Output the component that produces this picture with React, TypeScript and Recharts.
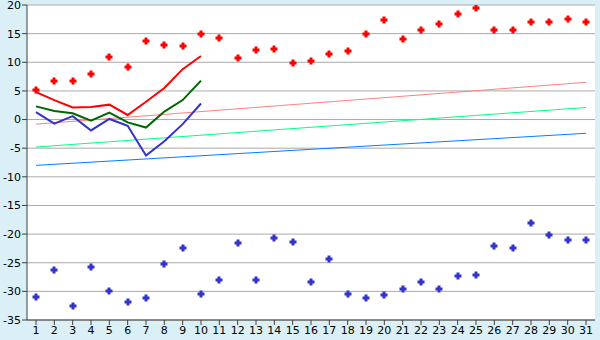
import React from "react";
import {
  ComposedChart,
  Line,
  Scatter,
  XAxis,
  YAxis,
  CartesianGrid
} from "recharts";

const days = [
  1, 2, 3, 4, 5, 6, 7, 8, 9, 10, 11, 12, 13, 14, 15, 16, 17, 18, 19, 20, 21,
  22, 23, 24, 25, 26, 27, 28, 29, 30, 31
];

const highs = [
  5.2, 6.7, 6.8, 7.9, 11.0, 9.1, 13.8, 13.0, 12.8, 15.0, 14.2, 10.7, 12.1,
  12.4, 9.8, 10.3, 11.4, 11.9, 14.9, 17.3, 14.0, 15.6, 16.6, 18.4, 19.4, 15.6,
  15.6, 17.0, 17.0, 17.5, 17.0
];

const lows = [
  -30.9, -26.2, -32.5, -25.8, -30.0, -31.8, -31.2, -25.3, -22.5, -30.4, -28.1,
  -21.6, -28.1, -20.7, -21.4, -28.3, -24.4, -30.4, -31.2, -30.7, -29.5, -28.4,
  -29.5, -27.4, -27.2, -22.1, -22.5, -18.0, -20.2, -21.1, -21.1
];

const maxLine = [4.8, 3.4, 2.1, 2.2, 2.6, 0.8, 3.1, 5.5, 8.8, 11.1];
const meanLine = [2.3, 1.5, 1.1, -0.2, 1.2, -0.5, -1.4, 1.4, 3.4, 6.8];
const minLine = [1.3, -0.7, 0.6, -1.9, 0.1, -1.1, -6.3, -3.8, -0.8, 2.8];

// trend lines: value at first and last day
const maxTrend = [-0.8, 6.5];
const meanTrend = [-4.8, 2.1];
const minTrend = [-8.0, -2.4];

const yTicks = [-35, -30, -25, -20, -15, -10, -5, 0, 5, 10, 15, 20];

const data = days.map(function (d, i) {
  const last = i === days.length - 1;
  return {
    day: d,
    high: highs[i],
    low: lows[i],
    max: i < maxLine.length ? maxLine[i] : null,
    mean: i < meanLine.length ? meanLine[i] : null,
    min: i < minLine.length ? minLine[i] : null,
    maxT: i === 0 ? maxTrend[0] : last ? maxTrend[1] : null,
    meanT: i === 0 ? meanTrend[0] : last ? meanTrend[1] : null,
    minT: i === 0 ? minTrend[0] : last ? minTrend[1] : null
  };
});

function Cross(props: any) {
  const { cx, cy, fill } = props;
  if (cx == null || cy == null) return null;
  const x = Math.round(cx) - 1.5;
  const y = Math.round(cy) - 3.5;
  const d = `M${x} ${y} h3 v2 h2 v3 h-2 v2 h-3 v-2 h-2 v-3 h2 z`;
  return <path d={d} fill={fill} />;
}

const tickStyle = { fontFamily: "DejaVu Sans", fontSize: 11, fill: "#000" };

export default function App() {
  return (
    <div
      style={{
        position: "absolute",
        left: 0,
        top: 0,
        width: 600,
        height: 340,
        background: "#daf0f6"
      }}
    >
      <ComposedChart
        width={600}
        height={340}
        data={data}
        margin={{ top: 5, right: 5, bottom: 0, left: 0 }}
      >
        <CartesianGrid
          vertical={false}
          stroke="#aaaaaa"
          strokeWidth={1}
          fill="#ffffff"
          fillOpacity={1}
        />
        <XAxis
          dataKey="day"
          height={20}
          padding={{ left: 9, right: 9 }}
          tick={tickStyle}
          tickSize={5}
          tickMargin={1}
          interval={0}
          stroke="#404040"
          axisLine={{ stroke: "#404040" }}
          tickLine={{ stroke: "#404040" }}
        />
        <YAxis
          width={27}
          domain={[-35, 20]}
          ticks={yTicks}
          tick={tickStyle}
          tickSize={5}
          tickMargin={1}
          interval={0}
          allowDataOverflow
          axisLine={{ stroke: "#404040" }}
          tickLine={{ stroke: "#404040" }}
        />
        <YAxis
          yAxisId="r"
          orientation="right"
          width={0}
          domain={[-35, 20]}
          tick={false}
          tickLine={false}
          axisLine={{ stroke: "#aaaaaa", strokeWidth: 2 }}
        />
        <Line
          dataKey="maxT"
          stroke="#ff8080"
          strokeWidth={1}
          dot={false}
          connectNulls
          isAnimationActive={false}
        />
        <Line
          dataKey="meanT"
          stroke="#00ff80"
          strokeWidth={1}
          dot={false}
          connectNulls
          isAnimationActive={false}
        />
        <Line
          dataKey="minT"
          stroke="#0080ff"
          strokeWidth={1}
          dot={false}
          connectNulls
          isAnimationActive={false}
        />
        <Line
          dataKey="max"
          stroke="#ff0000"
          strokeWidth={2}
          dot={false}
          isAnimationActive={false}
        />
        <Line
          dataKey="mean"
          stroke="#006600"
          strokeWidth={2}
          dot={false}
          isAnimationActive={false}
        />
        <Line
          dataKey="min"
          stroke="#3333cc"
          strokeWidth={2}
          dot={false}
          isAnimationActive={false}
        />
        <Scatter
          dataKey="high"
          fill="#ff0000"
          shape={<Cross />}
          isAnimationActive={false}
        />
        <Scatter
          dataKey="low"
          fill="#3333cc"
          shape={<Cross />}
          isAnimationActive={false}
        />
      </ComposedChart>
    </div>
  );
}
